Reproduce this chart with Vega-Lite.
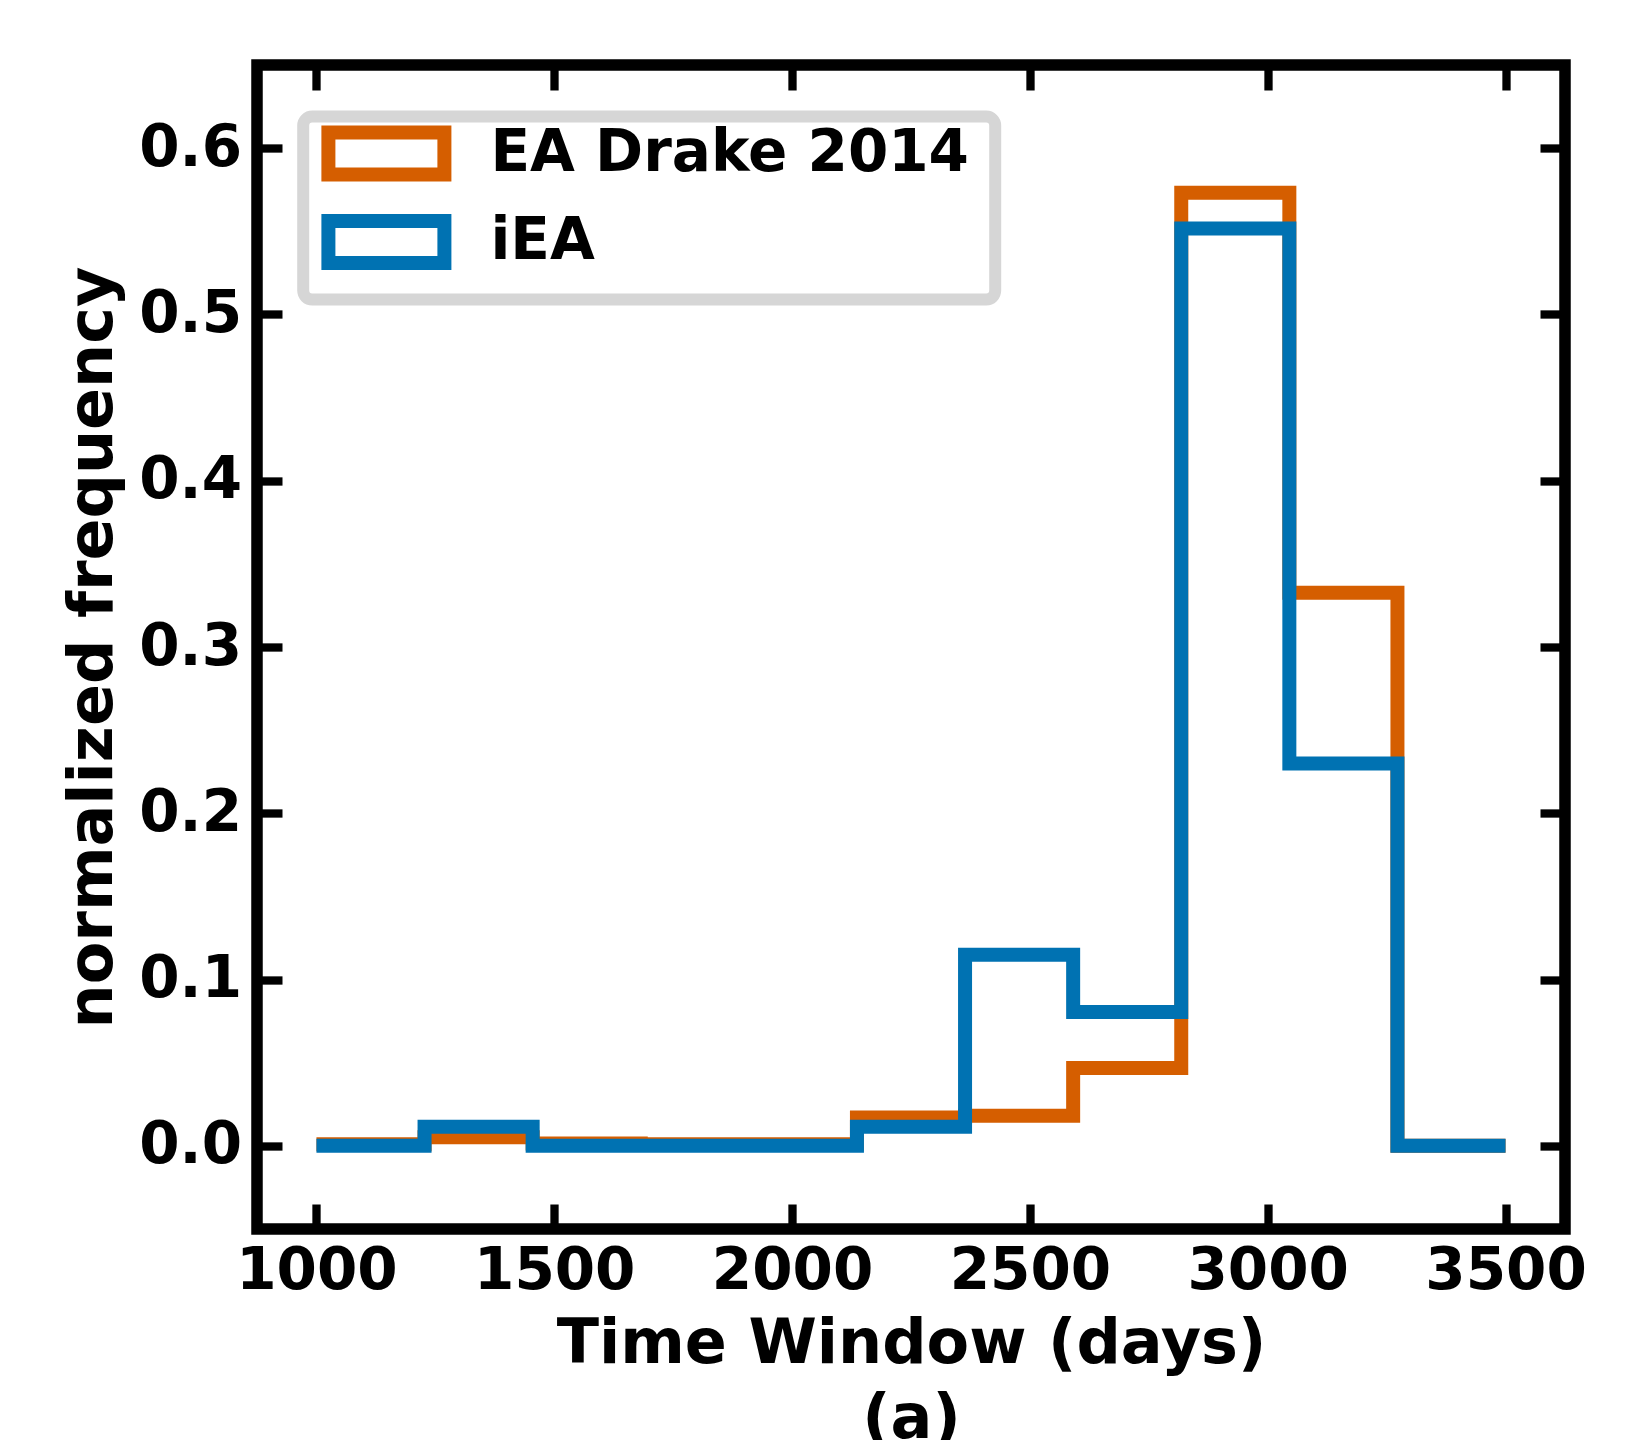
{
  "$schema": "https://vega.github.io/schema/vega-lite/v6.json",
  "width": 1308,
  "height": 1164,
  "autosize": {"type": "none"},
  "padding": {"left": 257, "top": 65, "right": 85, "bottom": 211},
  "background": "white",
  "data": {
    "values": [
      {"series": "EA Drake 2014", "x": 1000, "y": 0.001},
      {"series": "EA Drake 2014", "x": 1227.27, "y": 0.0052},
      {"series": "EA Drake 2014", "x": 1454.55, "y": 0.0014},
      {"series": "EA Drake 2014", "x": 1681.82, "y": 0.001},
      {"series": "EA Drake 2014", "x": 1909.09, "y": 0.001},
      {"series": "EA Drake 2014", "x": 2136.36, "y": 0.0171},
      {"series": "EA Drake 2014", "x": 2363.64, "y": 0.0181},
      {"series": "EA Drake 2014", "x": 2590.91, "y": 0.0468},
      {"series": "EA Drake 2014", "x": 2818.18, "y": 0.5731},
      {"series": "EA Drake 2014", "x": 3045.45, "y": 0.3326},
      {"series": "EA Drake 2014", "x": 3272.73, "y": 0},
      {"series": "EA Drake 2014", "x": 3500, "y": 0},
      {"series": "iEA", "x": 1000, "y": 0},
      {"series": "iEA", "x": 1227.27, "y": 0.0115},
      {"series": "iEA", "x": 1454.55, "y": 0},
      {"series": "iEA", "x": 1681.82, "y": 0},
      {"series": "iEA", "x": 1909.09, "y": 0},
      {"series": "iEA", "x": 2136.36, "y": 0.0115},
      {"series": "iEA", "x": 2363.64, "y": 0.1149},
      {"series": "iEA", "x": 2590.91, "y": 0.0805},
      {"series": "iEA", "x": 2818.18, "y": 0.5517},
      {"series": "iEA", "x": 3045.45, "y": 0.2299},
      {"series": "iEA", "x": 3272.73, "y": 0},
      {"series": "iEA", "x": 3500, "y": 0}
    ]
  },
  "layer": [
    {
      "transform": [{"filter": "datum.series === 'EA Drake 2014'"}],
      "mark": {"type": "line", "interpolate": "step-after", "strokeWidth": 14, "strokeJoin": "miter", "strokeCap": "butt"},
      "encoding": {
        "x": {
          "field": "x", "type": "quantitative",
          "scale": {"domain": [875, 3625], "nice": false, "zero": false},
          "axis": {
            "orient": "bottom",
            "values": [1000, 1500, 2000, 2500, 3000, 3500],
            "format": "d",
            "labelPadding": 38.5,
            "title": ["Time Window (days)", "(a)"],
            "titlePadding": 13,
            "titleLineHeight": 74.5
          }
        },
        "y": {
          "field": "y", "type": "quantitative",
          "scale": {"domain": [-0.05, 0.65], "nice": false, "zero": false},
          "axis": {
            "orient": "left",
            "values": [0, 0.1, 0.2, 0.3, 0.4, 0.5, 0.6],
            "format": ".1f",
            "labelPadding": 40.5,
            "title": "normalized frequency",
            "titlePadding": 14.5
          }
        },
        "color": {
          "field": "series", "type": "nominal",
          "scale": {"domain": ["EA Drake 2014", "iEA"], "range": ["#d55e00", "#0072b2"]},
          "legend": {
            "orient": "none",
            "legendX": 46.2,
            "legendY": 51.6,
            "title": " ",
            "titleOrient": "right",
            "titleFontSize": 1,
            "titlePadding": 18,
            "padding": 8,
            "rowPadding": -9.5,
            "symbolType": "M-2.9,-1.05H2.9V1.05H-2.9Z",
            "symbolSize": 1600,
            "symbolStrokeWidth": 14,
            "symbolFillColor": "white",
            "symbolOffset": 46.2,
            "labelOffset": 75,
            "labelLimit": 1000,
            "labelFontSize": 58,
            "labelFontWeight": "bold",
            "labelColor": "black",
            "strokeColor": "#d6d6d6",
            "fillColor": "white",
            "cornerRadius": 9,
            "encode": {"legend": {"update": {"strokeWidth": {"value": 12}}}}
          }
        }
      }
    },
    {
      "transform": [{"filter": "datum.series === 'iEA'"}],
      "mark": {"type": "line", "interpolate": "step-after", "strokeWidth": 14, "strokeJoin": "miter", "strokeCap": "butt"},
      "encoding": {
        "x": {
          "field": "x", "type": "quantitative",
          "axis": {
            "orient": "top",
            "values": [1000, 1500, 2000, 2500, 3000, 3500],
            "labels": false,
            "title": null
          }
        },
        "y": {
          "field": "y", "type": "quantitative",
          "axis": {
            "orient": "right",
            "values": [0, 0.1, 0.2, 0.3, 0.4, 0.5, 0.6],
            "labels": false,
            "title": null
          }
        },
        "color": {"field": "series", "type": "nominal"}
      }
    }
  ],
  "resolve": {"axis": {"x": "independent", "y": "independent"}},
  "config": {
    "font": "DejaVu Sans",
    "view": {"stroke": "black", "strokeWidth": 11.5},
    "axis": {
      "domain": false,
      "grid": false,
      "ticks": true,
      "tickSize": -25,
      "tickWidth": 8.3,
      "tickColor": "black",
      "labelFontSize": 58,
      "labelFontWeight": "bold",
      "labelColor": "black",
      "titleFontSize": 62,
      "titleFontWeight": "bold",
      "titleColor": "black"
    }
  }
}
